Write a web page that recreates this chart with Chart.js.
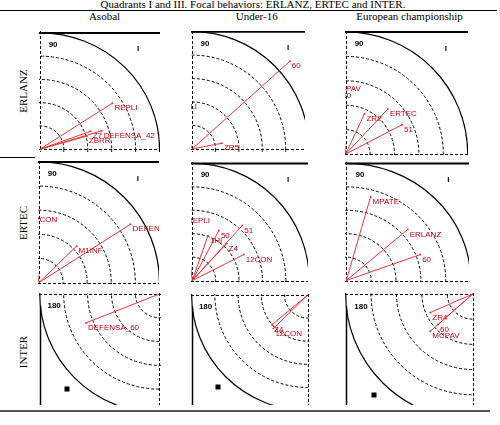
<!DOCTYPE html>
<html><head><meta charset="utf-8">
<script src="https://cdn.jsdelivr.net/npm/chart.js@4"></script>
<style>
html,body{margin:0;padding:0;background:#fff;}
body{width:500px;height:425px;position:relative;overflow:hidden;font-family:"Liberation Serif","Times New Roman",serif;}
.t{position:absolute;font-size:11px;line-height:11px;color:#000;white-space:nowrap;text-align:center;}
.rl{position:absolute;font-size:11px;line-height:11px;color:#000;white-space:nowrap;transform:translate(-50%,-50%) rotate(-90deg);}
.hl{position:absolute;background:#000;}
canvas{position:absolute;}
</style></head><body>
<div class="t" id="title" style="left:3px;top:-1px;width:500px;"></div>
<div class="hl" style="left:0;top:10px;width:497px;height:1px;"></div>
<div class="hl" style="left:0;top:157px;width:35px;height:1px;"></div>
<div class="hl" style="left:0;top:410px;width:490px;height:2px;background:#555;"></div>
<script>
// ---------- categories ----------
const title = "Quadrants I and III. Focal behaviors: ERLANZ, ERTEC and INTER.";
const columns = ["Asobal", "Under-16", "European championship"];
const rows = ["ERLANZ", "ERTEC", "INTER"];
const rings = [1, 2, 3, 4];
const outerRing = 5;
const angleLabelQ1 = "90", quadLabelQ1 = "I", angleLabelQ3 = "180";

// ---------- vectors (x = prospective, y = retrospective, in Zsum units) ----------
const asobalErlanzLabels = ["REPLI", "DEFENSA_42", "Z7", "ZBRR"];
const asobalErlanzX = [3.03, 2.58, 2.12, 1.96];
const asobalErlanzY = [1.98, 0.79, 0.77, 0.56];

const u16ErlanzLabels = ["60", "ZR5", "REPLI"];
const u16ErlanzX = [4.18, 1.27, -0.87];
const u16ErlanzY = [3.74, 0.24, 1.99];

const euroErlanzLabels = ["51", "ERTEC", "ZR2", "MCPAV", "60"];
const euroErlanzX = [2.31, 1.73, 0.77, -0.58, -0.22];
const euroErlanzY = [1.20, 1.85, 1.65, 2.88, 2.58];

const asobalErtecLabels = ["DEFENSA_42", "M1INF", "12CON"];
const asobalErtecX = [3.80, 1.56, -0.43];
const asobalErtecY = [2.42, 1.51, 2.82];

const u16ErtecLabels = ["51", "50", "1HI", "Z4", "12CON", "REPLI"];
const u16ErtecX = [2.14, 1.14, 0.67, 1.47, 2.20, -0.31];
const u16ErtecY = [2.35, 2.14, 1.91, 1.58, 1.11, 2.78];

const euroErtecLabels = ["MPATE", "ERLANZ", "60"];
const euroErtecX = [0.98, 2.47, 2.97];
const euroErtecY = [3.58, 2.18, 1.11];

const asobalInterLabels = ["DEFENSA_60"];
const asobalInterX = [-3.07];
const asobalInterY = [-1.22];

const u16InterLabels = ["Z4", "12CON"];
const u16InterX = [-1.54, -1.48];
const u16InterY = [-1.29, -1.45];

const euroInterLabels = ["ZR4", "60", "MCPAV"];
const euroInterX = [-1.67, -1.37, -1.67];
const euroInterY = [-0.74, -1.21, -1.48];

// ---------- layout (pixel geometry of each cropped panel) ----------
const panels = [
  {q:1, L:35,  T:27,  R:164, B:156, ox:36,    oy:153,   ux:25.5, uy:24.8, labels:asobalErlanzLabels, xs:asobalErlanzX, ys:asobalErlanzY},
  {q:1, L:187, T:27,  R:309, B:156, ox:188.3, oy:152.7, ux:25,   uy:25,   labels:u16ErlanzLabels, xs:u16ErlanzX, ys:u16ErlanzY},
  {q:1, L:341, T:27,  R:472, B:159, ox:341.7, oy:158,   ux:26,   uy:26,   labels:euroErlanzLabels, xs:euroErlanzX, ys:euroErlanzY},
  {q:1, L:34,  T:157, R:163, B:288, ox:35,    oy:286.5, ux:25.7, uy:25.7, labels:asobalErtecLabels, xs:asobalErtecX, ys:asobalErtecY},
  {q:1, L:187, T:158, R:312, B:286, ox:188.3, oy:284.5, ux:25,   uy:25,   labels:u16ErtecLabels, xs:u16ErtecX, ys:u16ErtecY},
  {q:1, L:341, T:158, R:473, B:286, ox:342.3, oy:284.5, ux:26.5, uy:25,   labels:euroErtecLabels, xs:euroErtecX, ys:euroErtecY},
  {q:3, L:35,  T:289, R:165, B:409, ox:163.3, oy:290,   ux:25.5, uy:25.5, labels:asobalInterLabels, xs:asobalInterX, ys:asobalInterY},
  {q:3, L:187, T:290, R:313, B:409, ox:311.7, oy:291,   ux:24.8, uy:24.8, labels:u16InterLabels, xs:u16InterX, ys:u16InterY},
  {q:3, L:341, T:289, R:478, B:409, ox:476.7, oy:290,   ux:27,   uy:27,   labels:euroInterLabels, xs:euroInterX, ys:euroInterY}
];
const headerCenters = [104.5, 256.7, 409.5];
const rowCenters = [91, 223, 352];

document.getElementById('title').textContent = title;
columns.forEach((c, i) => {
  const d = document.createElement('div');
  d.className = 't'; d.textContent = c;
  d.style.left = (headerCenters[i] - 80) + 'px'; d.style.width = '160px'; d.style.top = '11px';
  document.body.appendChild(d);
});
rows.forEach((r, i) => {
  const d = document.createElement('div');
  d.className = 'rl'; d.textContent = r;
  d.style.left = '23px'; d.style.top = rowCenters[i] + 'px';
  document.body.appendChild(d);
});

const RED_LINE = '#e8393c', RED_TEXT = '#c3000f';

const polarPlugin = {
  id: 'polarGrid',
  beforeDatasetsDraw(chart, args, o) {
    const {ctx, chartArea: a, scales: {x, y}} = chart;
    const cx = x.getPixelForValue(0), cy = y.getPixelForValue(0);
    const ux = x.getPixelForValue(1) - cx, uy = cy - y.getPixelForValue(1);
    ctx.save();
    ctx.beginPath(); ctx.rect(a.left, a.top, a.right - a.left, a.bottom - a.top); ctx.clip();
    ctx.strokeStyle = '#000'; ctx.lineWidth = 1; ctx.setLineDash([3, 2]);
    rings.forEach(r => { ctx.beginPath(); ctx.ellipse(cx, cy, r * ux, r * uy, 0, 0, Math.PI * 2); ctx.stroke(); });
    const ax = Math.round(cx) + 0.5, ay = Math.round(cy) + 0.5;
    ctx.beginPath(); ctx.moveTo(a.left, ay); ctx.lineTo(a.right, ay); ctx.stroke();
    ctx.beginPath(); ctx.moveTo(ax, a.top); ctx.lineTo(ax, a.bottom); ctx.stroke();
    ctx.setLineDash([]); ctx.lineWidth = 1.2;
    ctx.beginPath(); ctx.ellipse(cx, cy, outerRing * ux, outerRing * uy, 0, 0, Math.PI * 2); ctx.stroke();
    ctx.fillStyle = '#000';
    if (o.q === 1) {
      const ty = y.getPixelForValue(outerRing);
      ctx.lineWidth = 2;
      ctx.beginPath(); ctx.moveTo(a.left, ty); ctx.lineTo(a.right, ty); ctx.stroke();
      ctx.font = 'bold 8px "Liberation Sans", Arial, sans-serif';
      ctx.textAlign = 'center'; ctx.textBaseline = 'middle';
      ctx.fillText(angleLabelQ1, x.getPixelForValue(0.55), y.getPixelForValue(4.5));
      ctx.fillText(quadLabelQ1, x.getPixelForValue(4.1), y.getPixelForValue(4.3));
    } else {
      const lx = Math.round(x.getPixelForValue(-outerRing)) + 0.5;
      ctx.lineWidth = 1.5;
      ctx.beginPath(); ctx.moveTo(lx, y.getPixelForValue(-0.5)); ctx.lineTo(lx, a.bottom); ctx.stroke();
      ctx.font = 'bold 8px "Liberation Sans", Arial, sans-serif';
      ctx.textAlign = 'center'; ctx.textBaseline = 'middle';
      ctx.fillText(angleLabelQ3, x.getPixelForValue(-4.4), y.getPixelForValue(-0.5));
      const sx = x.getPixelForValue(-3.87), sy = y.getPixelForValue(-4.0);
      ctx.fillRect(Math.round(sx) - 2.5, Math.round(sy) - 2.5, 5, 5);
    }
    ctx.restore();
  },
  afterDatasetsDraw(chart, args, o) {
    const {ctx, chartArea: a, scales: {x, y}} = chart;
    ctx.save();
    ctx.beginPath(); ctx.rect(a.left, a.top, a.right - a.left, a.bottom - a.top); ctx.clip();
    ctx.font = '8px "Liberation Sans", Arial, sans-serif';
    ctx.fillStyle = RED_TEXT; ctx.textAlign = 'left'; ctx.textBaseline = 'middle';
    o.labels.forEach((lab, i) => {
      ctx.fillText(lab, x.getPixelForValue(o.xs[i]) + 2, y.getPixelForValue(o.ys[i]) + 5);
    });
    ctx.restore();
  }
};

panels.forEach(p => {
  const cv = document.createElement('canvas');
  const w = p.R - p.L, h = p.B - p.T;
  cv.width = w; cv.height = h;
  cv.style.left = p.L + 'px'; cv.style.top = p.T + 'px';
  cv.style.width = w + 'px'; cv.style.height = h + 'px';
  document.body.appendChild(cv);
  const datasets = p.labels.map((lab, i) => ({
    label: lab,
    data: [{x: 0, y: 0}, {x: p.xs[i], y: p.ys[i]}],
    showLine: true,
    borderColor: RED_LINE,
    borderWidth: 1,
    pointRadius: [0, 1],
    pointBackgroundColor: RED_LINE,
    pointBorderWidth: 0
  }));
  new Chart(cv, {
    type: 'scatter',
    data: {datasets},
    plugins: [polarPlugin],
    options: {
      responsive: false, animation: false, events: [],
      devicePixelRatio: 1,
      layout: {padding: 0},
      scales: {
        x: {type: 'linear', display: false, min: (p.L - p.ox) / p.ux, max: (p.R - p.ox) / p.ux},
        y: {type: 'linear', display: false, min: (p.oy - p.B) / p.uy, max: (p.oy - p.T) / p.uy}
      },
      plugins: {
        legend: {display: false}, tooltip: {enabled: false},
        polarGrid: {q: p.q, labels: p.labels, xs: p.xs, ys: p.ys}
      }
    }
  });
});
</script>
</body></html>
